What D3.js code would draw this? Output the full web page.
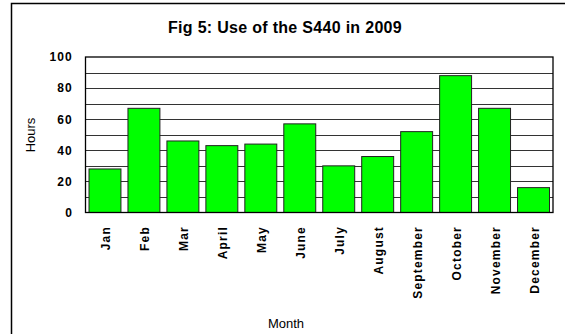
<!DOCTYPE html>
<html><head><meta charset="utf-8">
<script src="https://cdn.jsdelivr.net/npm/d3@7"></script>
<style>body{margin:0;background:#fff}svg{display:block}</style>
</head><body>
<svg id="c" width="565" height="334"></svg>
<script>
const months = ["Jan","Feb","Mar","April","May","June","July","August","September","October","November","December"];
const hours = [28, 67, 46, 43, 44, 57, 30, 36, 52, 88, 67, 16];
const yTicks = [0, 20, 40, 60, 80, 100];
const gridValues = [10, 20, 30, 40, 50, 60, 70, 80, 90];

const svg = d3.select("#c");
const F = "Liberation Sans, Arial, sans-serif";
// outer frame
svg.append("rect").attr("x", 11.5).attr("y", 3.5).attr("width", 600).attr("height", 400)
  .attr("fill", "none").attr("stroke", "#000").attr("stroke-width", 1.5);

const L = 85.5, R = 553, T = 57, B = 212.5;
const x = d3.scaleBand().domain(months).range([L, R]).paddingInner(0.18).paddingOuter(0.09);
const y = d3.scaleLinear().domain([0, 100]).range([B, T]);

// grid
svg.append("g").selectAll("line").data(gridValues).join("line")
  .attr("x1", L).attr("x2", R).attr("y1", d => Math.round(y(d)) + 0.5).attr("y2", d => Math.round(y(d)) + 0.5)
  .attr("stroke", "#333").attr("stroke-width", 1);

// bars
svg.append("g").selectAll("rect").data(hours).join("rect")
  .attr("x", (d, i) => x(months[i]))
  .attr("y", d => y(d))
  .attr("width", x.bandwidth())
  .attr("height", d => B - y(d))
  .attr("fill", "#00ff00").attr("stroke", "#222").attr("stroke-width", 1);

// plot frame
svg.append("rect").attr("x", L).attr("y", T).attr("width", R - L).attr("height", B - T)
  .attr("fill", "none").attr("stroke", "#000").attr("stroke-width", 1.3);

// y axis labels
svg.append("g").selectAll("text").data(yTicks).join("text")
  .attr("x", 73).attr("y", d => y(d)).attr("dy", "0.36em").attr("text-anchor", "end")
  .attr("font-family", F).attr("font-weight", "bold").attr("font-size", 12)
  .attr("letter-spacing", 1.2).text(d => d);

// x labels
svg.append("g").selectAll("text").data(months).join("text")
  .attr("transform", d => `translate(${x(d) + x.bandwidth() / 2 + 5},226) rotate(-90)`)
  .attr("text-anchor", "end")
  .attr("font-family", F).attr("font-weight", "bold").attr("font-size", 12)
  .attr("letter-spacing", 1.2).text(d => d);

// title
svg.append("text").attr("x", 285).attr("y", 33).attr("text-anchor", "middle")
  .attr("font-family", F).attr("font-weight", "bold").attr("font-size", 16)
  .attr("letter-spacing", 0.3).text("Fig 5: Use of the S440 in 2009");

// axis titles
svg.append("text").attr("x", 286).attr("y", 328).attr("text-anchor", "middle")
  .attr("font-family", F).attr("font-size", 13).text("Month");
svg.append("text").attr("transform", "translate(35,135) rotate(-90)").attr("text-anchor", "middle")
  .attr("font-family", F).attr("font-size", 13).text("Hours");
</script>
</body></html>
